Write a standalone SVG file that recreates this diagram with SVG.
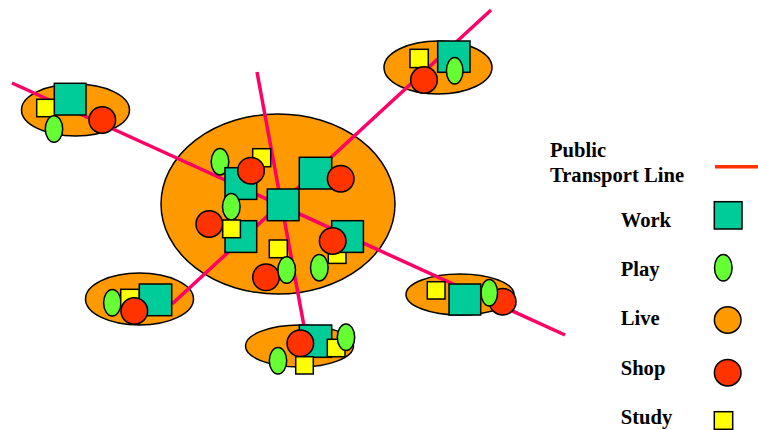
<svg xmlns="http://www.w3.org/2000/svg" width="758" height="430" viewBox="0 0 758 430">
<style>
.live{fill:#FF9900;stroke:#000;stroke-width:1.5}
.work{fill:#00CC99;stroke:#000;stroke-width:1.5}
.play{fill:#66FF33;stroke:#000;stroke-width:1.5}
.shop{fill:#FF3300;stroke:#000;stroke-width:1.5}
.study{fill:#FFFF00;stroke:#000;stroke-width:1.5}
.line{stroke:#FF0066;stroke-width:3.5;fill:none;stroke-linecap:butt}
.lbl{font-family:"Liberation Serif","Times New Roman",serif;font-weight:bold;font-size:20.6px;fill:#000}
</style>
<g id="areas">
<ellipse class="live" cx="278" cy="204" rx="117" ry="90"/>
<ellipse class="live" cx="75.5" cy="110" rx="54" ry="26"/>
<ellipse class="live" cx="438" cy="67.5" rx="54" ry="26.5"/>
<ellipse class="live" cx="139.5" cy="299" rx="54" ry="26"/>
<ellipse class="live" cx="299.5" cy="346" rx="54" ry="21"/>
<ellipse class="live" cx="460" cy="294.5" rx="54" ry="20.5"/>
</g>
<g id="connectors">
<line class="line" x1="257" y1="72" x2="304" y2="326"/>
<line class="line" x1="12" y1="83" x2="565" y2="335"/>
<line class="line" x1="491" y1="10" x2="172" y2="304"/>
</g>
<g id="central">
<ellipse class="play" cx="220" cy="161.7" rx="8.8" ry="13.2"/>
<rect class="study" x="252.7" y="148.7" width="18" height="18"/>
<rect class="work" x="225" y="167.7" width="31.7" height="31.7"/>
<circle class="shop" cx="251" cy="170.7" r="13.3"/>
<ellipse class="play" cx="231.3" cy="206.7" rx="8.8" ry="13.2"/>
<rect class="work" x="267.3" y="189" width="31.7" height="31.7"/>
<rect class="work" x="299.3" y="157.3" width="32.4" height="31.7"/>
<circle class="shop" cx="340.7" cy="178.7" r="13.3"/>
<rect class="work" x="225" y="220.7" width="31.7" height="31.7"/>
<circle class="shop" cx="209.3" cy="224" r="13.3"/>
<rect class="study" x="222.7" y="220" width="17.7" height="17.7"/>
<rect class="study" x="328.3" y="245.7" width="17.7" height="17.7"/>
<rect class="work" x="331.7" y="220.7" width="31.7" height="31.7"/>
<circle class="shop" cx="332.7" cy="241" r="13.3"/>
<ellipse class="play" cx="319.3" cy="267.7" rx="8.8" ry="13.2"/>
<rect class="study" x="269.3" y="240" width="18" height="17.7"/>
<circle class="shop" cx="266" cy="277.3" r="13.3"/>
<ellipse class="play" cx="286.7" cy="270" rx="8.8" ry="13.2"/>
</g>
<g id="topleft">
<rect class="work" x="54.3" y="83.3" width="31.7" height="31.7"/>
<rect class="study" x="36.7" y="99.3" width="17.6" height="17.4"/>
<ellipse class="play" cx="54" cy="129" rx="8.7" ry="13.2"/>
<circle class="shop" cx="102.3" cy="120" r="13.3"/>
</g>
<g id="topright">
<rect class="study" x="410" y="49.3" width="18.3" height="18.3"/>
<rect class="work" x="437.7" y="41" width="32.3" height="31.3"/>
<circle class="shop" cx="424" cy="80" r="13.3"/>
<ellipse class="play" cx="454.7" cy="70.7" rx="8.3" ry="13.3"/>
</g>
<g id="bottomleft">
<ellipse class="play" cx="112.3" cy="302.7" rx="8.7" ry="13.3"/>
<rect class="study" x="120.7" y="289.3" width="18.6" height="18.4"/>
<rect class="work" x="139.3" y="284" width="32.4" height="31.7"/>
<circle class="shop" cx="134.3" cy="311" r="13.3"/>
</g>
<g id="bottom">
<rect class="work" x="299.3" y="325" width="32.4" height="32.3"/>
<circle class="shop" cx="300.3" cy="343.3" r="13.3"/>
<rect class="study" x="327.3" y="339.3" width="17.7" height="17.4"/>
<ellipse class="play" cx="346" cy="337.3" rx="8.7" ry="13.3"/>
<ellipse class="play" cx="278" cy="360.7" rx="8.7" ry="13.3"/>
<rect class="study" x="295.7" y="356.7" width="17.6" height="17.3"/>
</g>
<g id="right">
<rect class="study" x="427.3" y="281.7" width="17.7" height="17.3"/>
<rect class="work" x="449" y="284" width="31.7" height="31"/>
<circle class="shop" cx="502.7" cy="301.7" r="13.3"/>
<ellipse class="play" cx="489.3" cy="292.7" rx="8.3" ry="13.3"/>
</g>
<g id="legend">
<text class="lbl" x="550" y="157.3">Public</text>
<text class="lbl" x="550" y="182.3">Transport Line</text>
<line x1="715" y1="166.7" x2="758" y2="166.7" stroke="#FF3300" stroke-width="3.5"/>
<text class="lbl" x="620.7" y="226.7">Work</text>
<rect class="work" x="714.3" y="201.7" width="27.7" height="27.3"/>
<text class="lbl" x="620.7" y="276">Play</text>
<ellipse class="play" cx="723.3" cy="267.7" rx="8.8" ry="13.3"/>
<text class="lbl" x="620.7" y="325.3">Live</text>
<circle class="live" cx="727.7" cy="320" r="13.3"/>
<text class="lbl" x="620.7" y="374.6">Shop</text>
<circle class="shop" cx="727.7" cy="372.7" r="13.3"/>
<text class="lbl" x="620.7" y="423.9">Study</text>
<rect class="study" x="714.3" y="411.7" width="18.4" height="17.6"/>
</g>
</svg>
